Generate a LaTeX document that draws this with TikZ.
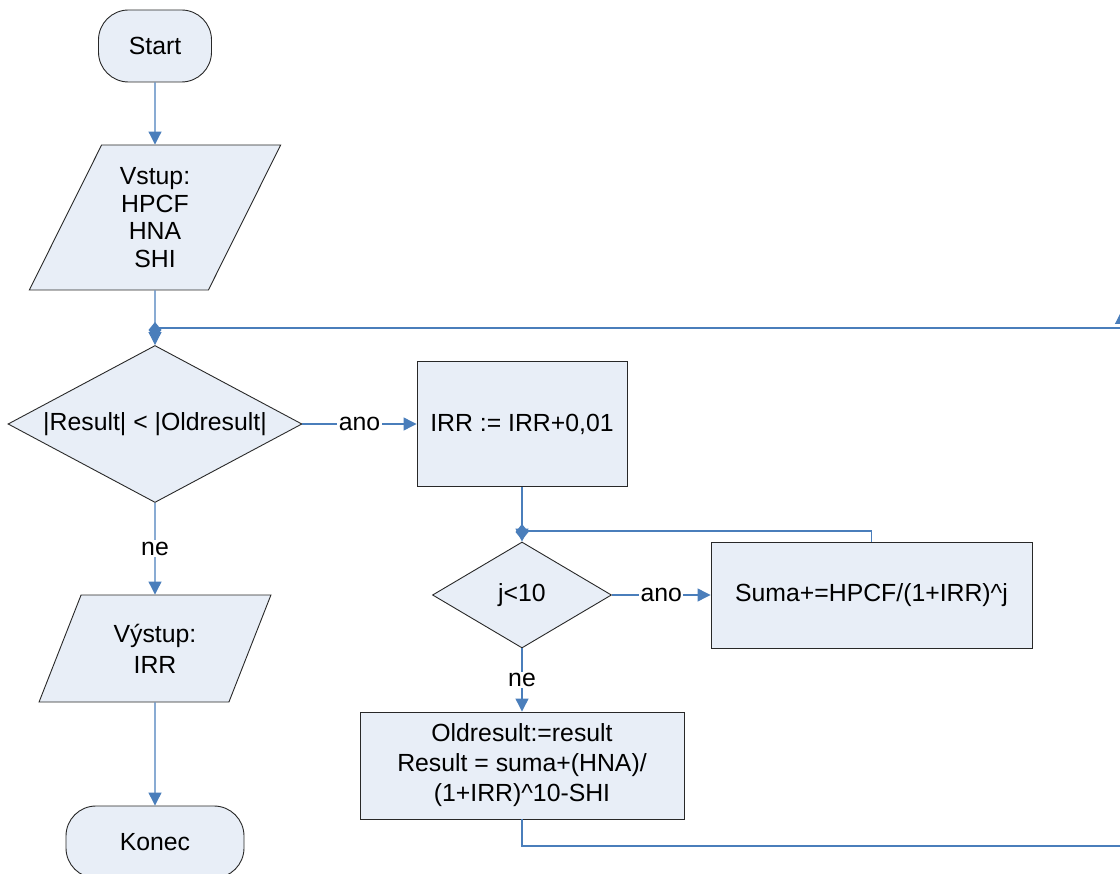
\documentclass[tikz,border=0pt]{standalone}
\usepackage{fontspec}
\setmainfont{Liberation Sans}
\usetikzlibrary{shapes.geometric,arrows.meta}
\definecolor{boxfill}{RGB}{232,238,247}
\definecolor{flowblue}{RGB}{74,126,187}
\definecolor{edgegray}{RGB}{40,40,40}

\begin{document}
\begin{tikzpicture}[x=1pt,y=-1pt,
  font=\fontsize{24.8}{29}\selectfont,
  base/.style={draw=edgegray, line width=0.9pt, fill=boxfill, inner sep=0pt, align=center},
  terminal/.style={base, rectangle, rounded corners=30pt, minimum width=113pt, minimum height=72pt},
  io/.style={base, trapezium, trapezium left angle=64.5, trapezium right angle=115.5, trapezium stretches=true},
  decision/.style={base, diamond},
  process/.style={base, rectangle},
  link/.style={draw=flowblue, line width=1.2pt},
  flow/.style={link, -{Triangle[length=13pt,width=13pt]}},
  tag/.style={fill=white, inner sep=1.5pt},
  junction/.style={fill=flowblue}
]
\useasboundingbox (0,0) rectangle (1120,874);
\clip (0,0) rectangle (1120,874);

% ---- nodes ----
\node[terminal] (start) at (155,46) {Start};
\node[io, minimum width=252pt, minimum height=145pt, font=\fontsize{24.8}{27.5}\selectfont] (vstup) at (155,217.5) {Vstup:\\HPCF\\HNA\\SHI};
\coordinate (j1) at (155,328);
\node[decision, aspect=1.87, minimum width=294pt, minimum height=157pt] (d1) at (155,424) {|Result| < |Oldresult|};
\node[process, minimum width=210pt, minimum height=125pt] (irr) at (522,424) {IRR := IRR+0,01};
\coordinate (j2) at (522,531);
\node[decision, aspect=1.69, minimum width=179pt, minimum height=106pt] (d2) at (522,595) {j<10};
\node[process, minimum width=321pt, minimum height=106pt] (suma) at (871.5,595) {Suma+=HPCF/(1+IRR)\textasciicircum j};
\node[process, minimum width=324pt, minimum height=107pt, font=\fontsize{24.8}{30}\selectfont] (upd) at (522,765.5)
  {Oldresult:=result\\Result = suma+(HNA)/\\(1+IRR)\textasciicircum 10-SHI};
\node[io, minimum width=232pt, minimum height=107pt, font=\fontsize{24.8}{31}\selectfont] (vystup) at (155,648.5) {Výstup:\\IRR};
\node[terminal, minimum width=178pt] (konec) at (155,842) {Konec};

% loop ends running past the right border
\coordinate (eTop) at (1130,328);
\coordinate (eBot) at (1121.5,846);
\coordinate (eArr) at (1121.5,311);

% ---- connectors ----
\draw[flow] (start) -- (vstup);
\draw[link] (vstup) -- (j1);
\draw[flow] (j1) -- (d1);
\draw[link] (j1) -- (eTop);
\draw[flow] (d1) -- node[tag] {ano} (irr);
\draw[link] (irr) -- (j2);
\draw[flow] (j2) -- (d2);
\draw[flow] (d2) -- node[tag] {ano} (suma);
\draw[link] (suma.north) |- (j2);
\draw[flow] (d2) -- node[tag] {ne} (upd);
\draw[flow] (upd) |- (eBot) -- (eArr);
\draw[flow] (d1) -- node[tag] {ne} (vystup);
\draw[flow] (vystup) -- (konec);

% junction markers
\fill[junction] (155,322) -- (161.5,330) -- (155,338) -- (148.5,330) -- cycle;
\fill[junction] (522,524) -- (528.5,532) -- (522,540) -- (515.5,532) -- cycle;
\end{tikzpicture}
\end{document}
